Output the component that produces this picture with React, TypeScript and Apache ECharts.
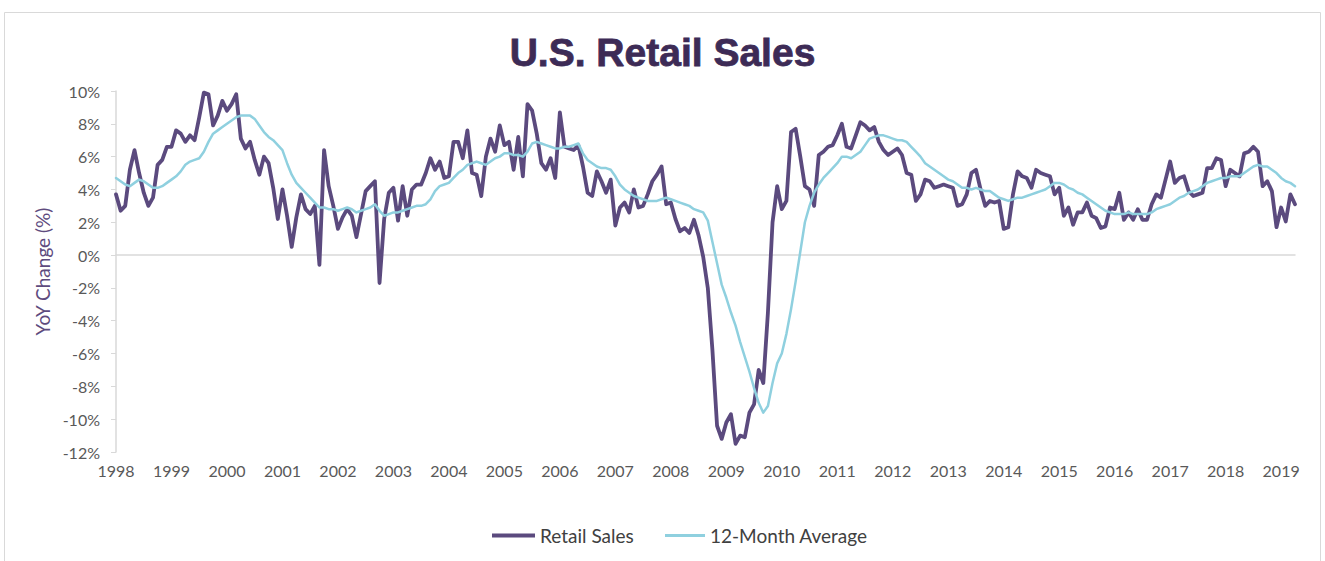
import React, { useEffect, useRef } from "react";
import * as echarts from "echarts";

const years = [1998, 1999, 2000, 2001, 2002, 2003, 2004, 2005, 2006, 2007, 2008, 2009, 2010, 2011, 2012, 2013, 2014, 2015, 2016, 2017, 2018, 2019];
const monthsIn2019 = 4;

const retail1998 = [3.7, 2.7, 3.0, 5.2, 6.4, 5.0, 3.8, 3.0, 3.5, 5.5, 5.8, 6.6];
const retail1999 = [6.6, 7.6, 7.4, 6.9, 7.3, 7.0, 8.4, 9.9, 9.8, 7.9, 8.5, 9.4];
const retail2000 = [8.8, 9.2, 9.8, 7.1, 6.5, 6.9, 5.8, 4.9, 6.0, 5.6, 4.1, 2.2];
const retail2001 = [4.0, 2.4, 0.5, 2.3, 3.7, 2.8, 2.5, 3.0, -0.6, 6.4, 4.2, 3.0];
const retail2002 = [1.6, 2.3, 2.8, 2.4, 1.1, 2.5, 3.9, 4.2, 4.5, -1.7, 2.2, 3.8];
const retail2003 = [4.1, 2.1, 4.2, 2.4, 4.0, 4.3, 4.3, 5.0, 5.9, 5.2, 5.7, 4.7];
const retail2004 = [4.8, 6.9, 6.9, 5.9, 7.6, 5.0, 4.9, 3.6, 6.0, 7.1, 6.3, 7.9];
const retail2005 = [6.7, 6.9, 5.2, 7.2, 4.8, 9.2, 8.8, 7.4, 5.6, 5.2, 5.9, 4.7];
const retail2006 = [8.7, 6.6, 6.5, 6.4, 6.7, 5.4, 3.8, 3.6, 5.1, 4.5, 3.8, 4.6];
const retail2007 = [1.8, 2.9, 3.2, 2.6, 4.0, 2.9, 3.0, 3.7, 4.5, 4.9, 5.4, 3.1];
const retail2008 = [3.2, 2.2, 1.45, 1.65, 1.35, 2.15, 1.2, -0.1, -2.0, -5.8, -10.4, -11.2];
const retail2009 = [-10.2, -9.7, -11.5, -11.0, -11.1, -9.6, -9.1, -7.0, -7.8, -3.5, 2.0, 4.2];
const retail2010 = [2.8, 3.3, 7.5, 7.7, 6.0, 4.2, 4.0, 3.0, 6.1, 6.3, 6.6, 6.7];
const retail2011 = [7.3, 8.0, 6.6, 6.5, 7.3, 8.1, 7.9, 7.6, 7.8, 6.9, 6.4, 6.1];
const retail2012 = [6.3, 6.5, 6.1, 5.0, 4.9, 3.3, 3.7, 4.6, 4.5, 4.1, 4.2, 4.3];
const retail2013 = [4.2, 4.1, 3.0, 3.1, 3.7, 5.0, 5.2, 4.0, 3.0, 3.3, 3.2, 3.3];
const retail2014 = [1.6, 1.7, 3.7, 5.1, 4.8, 4.7, 4.1, 5.2, 5.0, 4.9, 4.8, 3.7];
const retail2015 = [4.1, 2.4, 2.9, 1.85, 2.6, 2.6, 3.2, 2.4, 2.25, 1.65, 1.75, 2.9];
const retail2016 = [2.8, 3.8, 2.15, 2.6, 2.15, 2.8, 2.15, 2.15, 3.1, 3.7, 3.5, 4.6];
const retail2017 = [5.7, 4.4, 4.7, 4.8, 3.9, 3.6, 3.7, 3.8, 5.3, 5.3, 5.9, 5.8];
const retail2018 = [4.2, 5.2, 5.0, 4.8, 6.2, 6.3, 6.6, 6.3, 4.2, 4.5, 3.9, 1.7];
const retail2019 = [2.9, 2.05, 3.7, 3.1];

const avg1998 = [4.7, 4.5, 4.3, 4.2, 4.4, 4.6, 4.5, 4.3, 4.1, 4.1, 4.2, 4.4];
const avg1999 = [4.6, 4.8, 5.1, 5.5, 5.7, 5.8, 5.9, 6.3, 6.9, 7.4, 7.6, 7.8];
const avg2000 = [8.0, 8.2, 8.4, 8.5, 8.5, 8.5, 8.3, 7.9, 7.5, 7.2, 7.0, 6.7];
const avg2001 = [6.4, 5.6, 4.9, 4.4, 4.1, 3.8, 3.5, 3.2, 2.9, 2.9, 2.8, 2.8];
const avg2002 = [2.7, 2.8, 2.9, 2.8, 2.6, 2.7, 2.8, 2.9, 3.1, 2.7, 2.4, 2.5];
const avg2003 = [2.6, 2.6, 2.7, 2.8, 2.9, 3.0, 3.0, 3.1, 3.4, 3.9, 4.2, 4.3];
const avg2004 = [4.4, 4.7, 5.0, 5.2, 5.5, 5.6, 5.7, 5.6, 5.5, 5.7, 5.9, 6.0];
const avg2005 = [6.2, 6.2, 6.1, 6.1, 6.0, 6.3, 6.8, 6.9, 6.8, 6.7, 6.6, 6.5];
const avg2006 = [6.5, 6.6, 6.6, 6.7, 6.8, 6.2, 5.8, 5.6, 5.4, 5.3, 5.3, 5.2];
const avg2007 = [4.8, 4.3, 4.0, 3.8, 3.6, 3.5, 3.4, 3.3, 3.3, 3.3, 3.4, 3.5];
const avg2008 = [3.4, 3.3, 3.2, 3.1, 3.0, 2.8, 2.7, 2.6, 2.1, 0.8, -0.5, -1.8];
const avg2009 = [-2.6, -3.5, -4.3, -5.3, -6.2, -7.1, -8.1, -9.0, -9.6, -9.2, -7.8, -6.6];
const avg2010 = [-6.0, -4.8, -3.3, -1.6, 0.2, 2.0, 3.0, 3.8, 4.3, 4.7, 5.0, 5.3];
const avg2011 = [5.6, 6.0, 6.0, 5.9, 6.1, 6.3, 6.7, 7.1, 7.2, 7.3, 7.3, 7.2];
const avg2012 = [7.1, 7.0, 7.0, 6.9, 6.6, 6.3, 6.0, 5.6, 5.4, 5.2, 5.0, 4.8];
const avg2013 = [4.6, 4.5, 4.3, 4.1, 4.1, 4.0, 4.1, 4.0, 3.9, 3.9, 3.7, 3.5];
const avg2014 = [3.4, 3.3, 3.4, 3.5, 3.5, 3.6, 3.7, 3.8, 3.9, 4.0, 4.2, 4.4];
const avg2015 = [4.4, 4.3, 4.1, 4.0, 3.8, 3.7, 3.5, 3.3, 3.1, 2.9, 2.7, 2.6];
const avg2016 = [2.5, 2.5, 2.5, 2.6, 2.5, 2.5, 2.5, 2.5, 2.6, 2.8, 2.9, 3.0];
const avg2017 = [3.1, 3.3, 3.5, 3.6, 3.8, 3.9, 4.0, 4.2, 4.4, 4.5, 4.6, 4.7];
const avg2018 = [4.7, 4.8, 4.8, 4.8, 5.0, 5.2, 5.4, 5.5, 5.4, 5.4, 5.2, 5.0];
const avg2019 = [4.7, 4.5, 4.4, 4.2];

const retailSales = [
  ...retail1998, ...retail1999, ...retail2000, ...retail2001, ...retail2002, ...retail2003,
  ...retail2004, ...retail2005, ...retail2006, ...retail2007, ...retail2008, ...retail2009,
  ...retail2010, ...retail2011, ...retail2012, ...retail2013, ...retail2014, ...retail2015,
  ...retail2016, ...retail2017, ...retail2018, ...retail2019,
];
const twelveMonthAvg = [
  ...avg1998, ...avg1999, ...avg2000, ...avg2001, ...avg2002, ...avg2003,
  ...avg2004, ...avg2005, ...avg2006, ...avg2007, ...avg2008, ...avg2009,
  ...avg2010, ...avg2011, ...avg2012, ...avg2013, ...avg2014, ...avg2015,
  ...avg2016, ...avg2017, ...avg2018, ...avg2019,
];

const categories: string[] = [];
years.forEach((y) => {
  const n = y === 2019 ? monthsIn2019 : 12;
  for (let m = 1; m <= n; m++) categories.push(`${y}-${m < 10 ? "0" + m : m}`);
});

const FONT = "Lato, 'Open Sans', sans-serif";

export default function App() {
  const ref = useRef<HTMLDivElement>(null);
  useEffect(() => {
    if (!ref.current) return;
    const chart = echarts.init(ref.current, undefined, { renderer: "svg" });
    chart.setOption({
      animation: false,
      backgroundColor: "#ffffff",
      title: {
        text: "U.S. Retail Sales",
        left: "center",
        top: 28,
        textStyle: {
          fontFamily: "'Liberation Sans', Arial, sans-serif",
          fontWeight: "bold",
          fontSize: 39,
          color: "#3d2b56",
          textBorderColor: "#3d2b56",
          textBorderWidth: 0.8,
        },
      },
      graphic: [
        {
          type: "rect",
          shape: { x: 4.5, y: 12.5, width: 1316, height: 600 },
          style: { fill: "none", stroke: "#d9d9d9", lineWidth: 1 },
          silent: true,
        },
      ],
      legend: [
        {
          data: ["Retail Sales"],
          left: 487,
          top: 521,
          icon: "rect",
          itemWidth: 43,
          itemHeight: 4,
          textStyle: { fontFamily: FONT, fontSize: 19, color: "#404040" },
        },
        {
          data: ["12-Month Average"],
          left: 660,
          top: 521,
          icon: "rect",
          itemWidth: 40,
          itemHeight: 3,
          textStyle: { fontFamily: FONT, fontSize: 19, color: "#404040" },
        },
      ],
      grid: { left: 116, right: 30, top: 91, bottom: 109, containLabel: false },
      xAxis: [
        {
          type: "category",
          data: categories,
          boundaryGap: false,
          axisLine: { show: true, onZero: true, lineStyle: { color: "#d9d9d9", width: 1.5 } },
          axisTick: { show: false },
          axisLabel: { show: false },
          splitLine: { show: false },
        },
        {
          type: "category",
          data: categories,
          boundaryGap: false,
          position: "bottom",
          axisLine: { show: false, onZero: false },
          axisTick: { show: false },
          axisLabel: {
            show: true,
            interval: (index: number) => index % 12 === 0,
            formatter: (v: string) => v.slice(0, 4),
            fontFamily: FONT,
            fontSize: 16,
            color: "#595959",
            margin: 10,
          },
          splitLine: { show: false },
        },
      ],
      yAxis: {
        type: "value",
        min: -12,
        max: 10,
        interval: 2,
        name: "YoY Change (%)",
        nameLocation: "middle",
        nameRotate: 90,
        nameGap: 64,
        nameTextStyle: { fontFamily: FONT, fontSize: 19, color: "#5e4b7e" },
        axisLine: { show: true, lineStyle: { color: "#d9d9d9", width: 1.5 } },
        axisTick: { show: true, length: 5, lineStyle: { color: "#d9d9d9" } },
        axisLabel: {
          formatter: "{value}%",
          fontFamily: FONT,
          fontSize: 16,
          color: "#595959",
          margin: 16,
        },
        splitLine: { show: false },
      },
      series: [
        {
          name: "Retail Sales",
          type: "line",
          xAxisIndex: 0,
          data: retailSales,
          showSymbol: false,
          symbol: "none",
          lineStyle: { color: "#5b4a7e", width: 3.8, join: "round", cap: "round" },
          itemStyle: { color: "#5b4a7e" },
        },
        {
          name: "12-Month Average",
          type: "line",
          xAxisIndex: 0,
          data: twelveMonthAvg,
          showSymbol: false,
          symbol: "none",
          lineStyle: { color: "#8fd0df", width: 2.5, join: "round", cap: "round" },
          itemStyle: { color: "#8fd0df" },
        },
      ],
    });
    return () => chart.dispose();
  }, []);
  return (
    <div
      ref={ref}
      style={{ position: "absolute", left: 0, top: 0, width: 1325, height: 561, background: "#fff" }}
    />
  );
}
